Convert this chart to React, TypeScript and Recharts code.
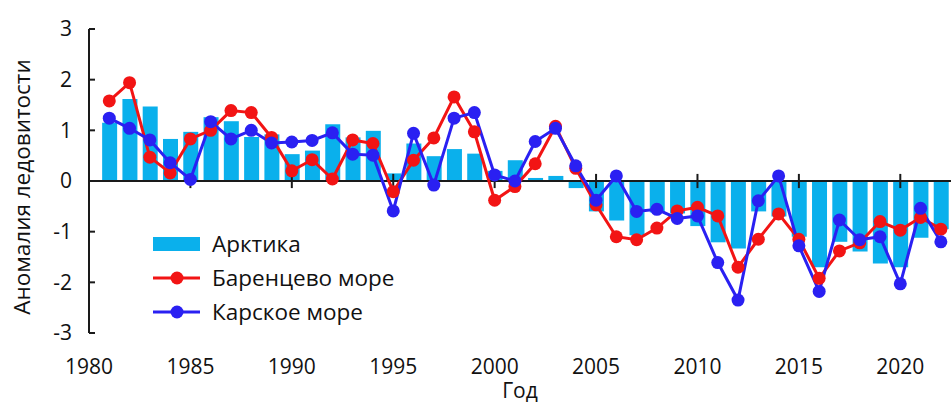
import React from 'react';
import {
  ComposedChart, Bar, Line, XAxis, YAxis, ReferenceLine, Legend, Label,
} from 'recharts';

const years = [
  1981, 1982, 1983, 1984, 1985, 1986, 1987, 1988, 1989, 1990,
  1991, 1992, 1993, 1994, 1995, 1996, 1997, 1998, 1999, 2000,
  2001, 2002, 2003, 2004, 2005, 2006, 2007, 2008, 2009, 2010,
  2011, 2012, 2013, 2014, 2015, 2016, 2017, 2018, 2019, 2020,
  2021, 2022,
];

const arctic = [
  1.15, 1.62, 1.47, 0.83, 0.97, 1.26, 1.18, 0.87, 0.92, 0.53,
  0.6, 1.12, 0.86, 0.99, 0.15, 0.74, 0.49, 0.63, 0.54, 0.2,
  0.41, 0.06, 0.1, -0.14, -0.6, -0.78, -1.07, -0.62, -0.64, -0.89,
  -1.21, -1.33, -0.6, -0.7, -1.1, -1.7, -1.2, -1.39, -1.63, -1.7,
  -1.12, -0.95,
];

const barents = [
  1.58, 1.94, 0.47, 0.16, 0.83, 1.0, 1.39, 1.35, 0.86, 0.2,
  0.42, 0.04, 0.81, 0.74, -0.21, 0.41, 0.85, 1.66, 0.97, -0.38,
  -0.11, 0.34, 1.08, 0.25, -0.47, -1.1, -1.16, -0.93, -0.59, -0.52,
  -0.69, -1.7, -1.15, -0.65, -1.15, -1.92, -1.38, -1.22, -0.8, -0.97,
  -0.72, -0.95,
];

const kara = [
  1.24, 1.04, 0.81, 0.36, 0.03, 1.17, 0.83, 1.0, 0.75, 0.77,
  0.8, 0.95, 0.53, 0.51, -0.59, 0.94, -0.08, 1.24, 1.35, 0.12,
  0.0, 0.78, 1.04, 0.3, -0.38, 0.1, -0.6, -0.56, -0.74, -0.69,
  -1.61, -2.35, -0.39, 0.1, -1.28, -2.18, -0.77, -1.16, -1.1, -2.03,
  -0.54, -1.2,
];

const xTicks = [1980, 1985, 1990, 1995, 2000, 2005, 2010, 2015, 2020];
const yTicks = [-3, -2, -1, 0, 1, 2, 3];

const seriesNames = {
  arctic: 'Арктика',
  barents: 'Баренцево море',
  kara: 'Карское море',
};

const COLORS = {
  arctic: '#0ab0ec',
  barents: '#f21414',
  kara: '#2a20f2',
};

const data = years.map((y, i) => ({
  year: y,
  arctic: arctic[i],
  barents: barents[i],
  kara: kara[i],
}));

const FONT = "'Open Sans', 'Noto Sans', sans-serif";
const TEXT = '#111';

const LegendContent = () => {
  const rows = [
    { key: 'arctic', type: 'bar' },
    { key: 'barents', type: 'line' },
    { key: 'kara', type: 'line' },
  ];
  return (
    <svg width={280} height={104} style={{ display: 'block', overflow: 'visible' }}>
      {rows.map((r, i) => {
        const cy = 16 + i * 34;
        const color = COLORS[r.key];
        return (
          <g key={r.key}>
            {r.type === 'bar' ? (
              <rect x={3} y={cy - 7} width={47} height={14} fill={color} />
            ) : (
              <g>
                <line x1={3} x2={50} y1={cy} y2={cy} stroke={color} strokeWidth={3} />
                <circle cx={27} cy={cy} r={6.5} fill={color} />
              </g>
            )}
            <text
              x={62}
              y={cy}
              dy="0.35em"
              fontFamily={FONT}
              fontSize={22.5}
              fill={TEXT}
            >
              {seriesNames[r.key]}
            </text>
          </g>
        );
      })}
    </svg>
  );
};

const YLabel = (props) => {
  const vb = props.viewBox || { x: 0, y: 0, width: 0, height: 0 };
  const cx = vb.x + 21;
  const cy = vb.y + vb.height / 2 + 6;
  return (
    <text
      x={cx}
      y={cy}
      transform={`rotate(-90, ${cx}, ${cy})`}
      textAnchor="middle"
      dominantBaseline="central"
      fontFamily={FONT}
      fontSize={22.5}
      fill={TEXT}
    >
      Аномалия ледовитости
    </text>
  );
};

export default function App() {
  return (
    <div style={{ position: 'absolute', left: 0, top: 0, width: 951, height: 406, background: '#fff' }}>
      <ComposedChart
        width={951}
        height={406}
        data={data}
        margin={{ top: 29, right: 0, bottom: 0, left: 0 }}
      >
        <XAxis
          dataKey="year"
          type="number"
          domain={[1980, 2022.5]}
          ticks={xTicks}
          allowDataOverflow
          axisLine={false}
          tickLine={false}
          tickSize={0}
          tickMargin={26}
          height={73}
          tick={{ fontFamily: FONT, fontSize: 21, fill: TEXT }}
        >
          <Label
            value="Год"
            position="insideBottom"
            offset={8}
            style={{ fontFamily: FONT, fontSize: 21, fill: TEXT }}
          />
        </XAxis>
        <YAxis
          type="number"
          domain={[-3, 3]}
          ticks={yTicks}
          width={89}
          axisLine={{ stroke: '#1a1a1a', strokeWidth: 2 }}
          tickLine={{ stroke: '#1a1a1a', strokeWidth: 2 }}
          tickSize={-6}
          tickMargin={23}
          tick={{ fontFamily: FONT, fontSize: 21, fill: TEXT }}
        >
          <Label content={YLabel} />
        </YAxis>
        <Legend
          layout="vertical"
          align="center"
          verticalAlign="middle"
          wrapperStyle={{ left: 150, top: 228, width: 280, height: 104 }}
          content={LegendContent}
        />
        <Bar
          dataKey="arctic"
          name={seriesNames.arctic}
          fill={COLORS.arctic}
          barSize={15}
          isAnimationActive={false}
        />
        <ReferenceLine y={0} stroke="#1a1a1a" strokeWidth={2} />
        {xTicks.slice(1).map((t) => (
          <ReferenceLine
            key={t}
            segment={[{ x: t, y: -0.14 }, { x: t, y: 0.14 }]}
            stroke="#1a1a1a"
            strokeWidth={2}
          />
        ))}
        <Line
          dataKey="barents"
          name={seriesNames.barents}
          stroke={COLORS.barents}
          strokeWidth={3}
          dot={{ r: 6.5, fill: COLORS.barents, stroke: COLORS.barents, strokeWidth: 0 }}
          activeDot={false}
          isAnimationActive={false}
        />
        <Line
          dataKey="kara"
          name={seriesNames.kara}
          stroke={COLORS.kara}
          strokeWidth={3}
          dot={{ r: 6.5, fill: COLORS.kara, stroke: COLORS.kara, strokeWidth: 0 }}
          activeDot={false}
          isAnimationActive={false}
        />
      </ComposedChart>
    </div>
  );
}
